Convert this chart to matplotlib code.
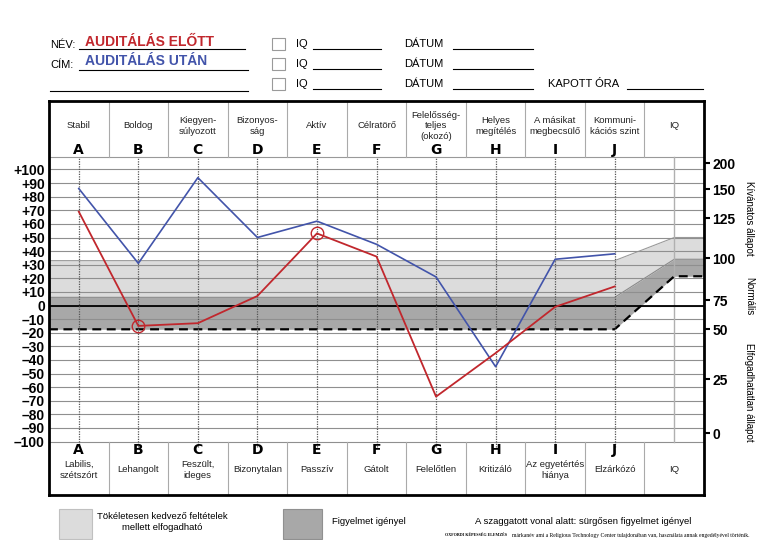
import matplotlib
matplotlib.use('Agg')
import matplotlib.pyplot as plt
from matplotlib.patches import Rectangle
from matplotlib.transforms import blended_transform_factory
import logging
logging.getLogger('matplotlib.font_manager').setLevel(logging.ERROR)

# ---------------- data ----------------
letters = ['A', 'B', 'C', 'D', 'E', 'F', 'G', 'H', 'I', 'J']
top_labels = ['Stabil', 'Boldog', 'Kiegyen-\nsúlyozott', 'Bizonyos-\nság', 'Aktív', 'Célratörő',
              'Felelősség-\nteljes\n(okozó)', 'Helyes\nmegítélés', 'A másikat\nmegbecsülő',
              'Kommuni-\nkációs szint', 'IQ']
bottom_labels = ['Labilis,\nszétszórt', 'Lehangolt', 'Feszült,\nideges', 'Bizonytalan', 'Passzív',
                 'Gátolt', 'Felelőtlen', 'Kritizáló', 'Az egyetértés\nhiánya', 'Elzárkózó', 'IQ']
before_vals = [69, -15, -13, 7, 53, 36, -67, -35, -1, 14]    # AUDITÁLÁS ELŐTT (red)
after_vals = [86, 31, 94, 50, 62, 45, 21, -45, 34, 38]       # AUDITÁLÁS UTÁN (blue)
circled = ['B', 'E']
left_ticks = list(range(-100, 101, 10))
iq_ticks = [0, 25, 50, 75, 100, 125, 150, 200]
iq_on_left_scale = [-94, -54.3, -17.3, 4.0, 34.7, 64.1, 85.4, 104.6]
band_x = [-0.5, 9, 10, 10.5]
light_top = [33, 33, 50, 50]
dark_top = [6, 6, 34, 34]
urgent_line = [-17.5, -17.5, 21.5, 21.5]

NARROW = ['Liberation Sans Narrow', 'Liberation Sans', 'DejaVu Sans']
RED = '#c1272d'
BLUE = '#4254aa'
LIGHT = '#dcdcdc'
DARK = '#a8a8a8'
GRID = '#8f8f8f'

# ---------------- layout ----------------
W, H = 768, 540
L, R, T, B = 49, 704, 101, 495
Y0, S = 305.5, 1.36


def py(y):
    return (Y0 - y) / S


fig = plt.figure(figsize=(7.68, 5.40), dpi=100)
ax = fig.add_axes([L / W, (H - B) / H, (R - L) / W, (B - T) / H])
ax.set_xlim(-0.5, 10.5)
ax.set_ylim(py(B), py(T))
ax.set_facecolor('white')

ytop = py(157)
ybot = -100

# bands
ax.fill_between(band_x, dark_top, light_top, color=LIGHT, lw=0, zorder=1)
ax.fill_between(band_x, urgent_line, dark_top, color=DARK, lw=0, zorder=1)
ax.plot(band_x, light_top, color='#9a9a9a', lw=0.8, zorder=2)
ax.plot(band_x, dark_top, color='#8a8a8a', lw=0.8, zorder=2)

# grid
for v in left_ticks:
    ax.plot([-0.5, 10.5], [v, v], color=GRID, lw=0.8, zorder=2)
ax.plot([-0.5, 10.5], [ytop, ytop], color='#999999', lw=0.8, zorder=2)
ax.plot([-0.5, 10.5], [0, 0], color='black', lw=1.3, zorder=3)
ax.plot(band_x, urgent_line, color='black', lw=1.6, ls=(0, (4, 2.5)), zorder=3)

# vertical column lines
for i in range(10):
    ax.plot([i, i], [ybot - 4, ytop], color='#555555', lw=0.9, ls=(0, (1, 1)), zorder=3)
ax.plot([10, 10], [ybot, ytop], color='#b0b0b0', lw=1.0, zorder=2)

# header / footer dividers
for k in range(10):
    xb = k + 0.5
    ax.plot([xb, xb], [ytop, py(T)], color='#aaaaaa', lw=0.8, zorder=2)
    ax.plot([xb, xb], [py(B), ybot], color='#aaaaaa', lw=0.8, zorder=2)

# data lines
xs = list(range(len(letters)))
ax.plot(xs, after_vals, color=BLUE, lw=1.2, zorder=4)
ax.plot(xs, before_vals, color=RED, lw=1.3, zorder=4)
for c in circled:
    i = letters.index(c)
    ax.plot([i], [before_vals[i]], marker='o', ms=9, mfc='none', mec=RED, mew=1.0, zorder=5)

# axes styling
for s in ax.spines.values():
    s.set_linewidth(2.0)
    s.set_color('black')
ax.set_xticks([])
ax.set_yticks(left_ticks)
ax.set_yticklabels([('+%d' % v) if v > 0 else ('0' if v == 0 else '–%d' % (-v)) for v in left_ticks],
                   fontsize=10, fontweight='bold', family='Liberation Sans')
ax.tick_params(axis='y', length=0, pad=3)

ax2 = ax.twinx()
ax2.set_ylim(ax.get_ylim())
ax2.set_yticks(iq_on_left_scale)
ax2.set_yticklabels([str(v) for v in iq_ticks], fontsize=10, fontweight='bold', family='Liberation Sans')
ax2.tick_params(axis='y', length=4, width=1.5, pad=2)
for s in ax2.spines.values():
    s.set_visible(False)

# overlay in pixel coords
ov = fig.add_axes([0, 0, 1, 1], zorder=10)
ov.set_xlim(0, W)
ov.set_ylim(H, 0)
ov.axis('off')
ov.patch.set_visible(False)
tr = blended_transform_factory(ax.transData, ov.transData)

for i, lab in enumerate(top_labels):
    ov.text(i, 126, lab, transform=tr, ha='center', va='center', fontsize=6.8, family=NARROW,
            linespacing=1.2, color='#222222')
for i, lab in enumerate(bottom_labels):
    ov.text(i, 470, lab, transform=tr, ha='center', va='center', fontsize=6.8, family=NARROW,
            linespacing=1.25, color='#222222')
for i, let in enumerate(letters):
    ov.text(i, 150, let, transform=tr, ha='center', va='center', fontsize=10, fontweight='bold',
            family='DejaVu Sans')
    ov.text(i, 450, let, transform=tr, ha='center', va='center', fontsize=10, fontweight='bold',
            family='DejaVu Sans')

# right side descriptions
ov.text(749, 218, 'Kívánatos állapot', rotation=270, ha='center', va='center', fontsize=7, family=NARROW)
ov.text(749, 296, 'Normális', rotation=270, ha='center', va='center', fontsize=7, family=NARROW)
ov.text(749, 392, 'Elfogadhatatlan állapot', rotation=270, ha='center', va='center', fontsize=7, family=NARROW)

# form header
def uline(x0, x1, y):
    ov.plot([x0, x1], [y, y], color='black', lw=0.8)

ov.text(50, 45, 'NÉV:', fontsize=8, family=NARROW, va='center')
ov.text(85, 42, 'AUDITÁLÁS ELŐTT', fontsize=10, fontweight='bold', family=NARROW, color=RED, va='center')
uline(79, 245, 49)
ov.text(50, 65, 'CÍM:', fontsize=8, family=NARROW, va='center')
ov.text(85, 61, 'AUDITÁLÁS UTÁN', fontsize=10, fontweight='bold', family=NARROW, color=BLUE, va='center')
uline(79, 248, 70)
uline(50, 248, 91)
for yy in (44, 64, 84):
    ov.add_patch(Rectangle((272, yy - 6), 13, 12, fill=False, ec='#9a9a9a', lw=0.8))
    ov.text(296, yy, 'IQ', fontsize=8, family=NARROW, va='center')
    uline(313, 381, yy + 5)
    ov.text(404, yy, 'DÁTUM', fontsize=8, family=NARROW, va='center')
    uline(453, 533, yy + 5)
ov.text(548, 84, 'KAPOTT ÓRA', fontsize=8, family=NARROW, va='center')
uline(627, 703, 89)

# legend
ov.add_patch(Rectangle((59, 509), 33, 30, fc=LIGHT, ec='#c0c0c0', lw=0.8))
ov.text(162, 522, 'Tökéletesen kedvező feltételek\nmellett elfogadható', ha='center', va='center',
        fontsize=6.8, family=NARROW, linespacing=1.35)
ov.add_patch(Rectangle((283, 509), 39, 30, fc=DARK, ec='#909090', lw=0.8))
ov.text(332, 522, 'Figyelmet igényel', ha='left', va='center', fontsize=6.8, family=NARROW)
ov.text(475, 521, 'A szaggatott vonal alatt: sürgősen figyelmet igényel', ha='left', va='center',
        fontsize=6.8, family=NARROW)
ov.text(445, 535, 'OXFORDI KÉPESSÉG ELEMZÉS', ha='left', va='center', fontsize=3.0, fontweight='bold',
        family='Liberation Serif')
ov.text(512, 535, 'márkanév ami a Religious Technology Center tulajdonában van, használata annak engedélyével történik.',
        ha='left', va='center', fontsize=4.1, family='Liberation Serif')

fig.savefig('out.png', dpi=100)
